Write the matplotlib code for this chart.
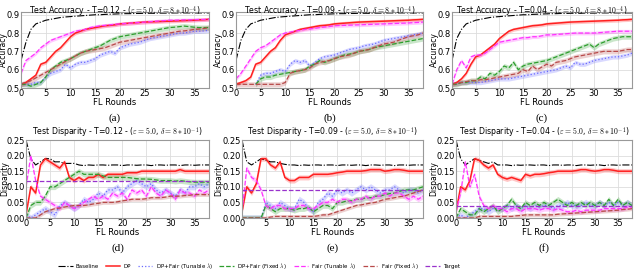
import numpy as np
import matplotlib
matplotlib.use("Agg")
import matplotlib.pyplot as plt

plt.rcParams['mathtext.fontset'] = 'cm'
plt.rcParams['font.family'] = 'DejaVu Sans'

nan = np.nan
rounds = np.arange(39)

# ---- accuracy, T=0.12 ----
base_a = [0.65,0.75,0.82,0.85,0.86,0.87,0.875,0.88,0.885,0.888,
          0.89,0.892,0.894,0.896,0.898,0.90,0.90,0.902,0.903,0.904,
          0.905,0.906,0.906,0.907,0.907,0.908,0.908,0.908,0.909,0.909,
          0.909,0.91,0.91,0.91,0.91,0.91,0.91,0.91,0.91]
dp_a = [0.52,0.53,0.55,0.57,0.63,0.64,0.67,0.70,0.72,0.75,
        0.78,0.80,0.81,0.82,0.825,0.83,0.835,0.84,0.842,0.845,
        0.85,0.852,0.854,0.856,0.858,0.86,0.861,0.862,0.863,0.864,
        0.865,0.866,0.867,0.868,0.869,0.87,0.872,0.873,0.875]
dpft_a = [0.52,0.52,0.52,0.53,0.53,0.56,0.58,0.59,0.60,0.63,
          0.61,0.63,0.64,0.64,0.65,0.66,0.68,0.69,0.70,0.69,
          0.72,0.73,0.74,0.745,0.75,0.76,0.77,0.775,0.78,0.785,
          0.79,0.795,0.80,0.80,0.805,0.81,0.81,0.812,0.815]
dpff_a = [0.52,0.52,0.51,0.52,0.53,0.56,0.60,0.62,0.64,0.65,
          0.66,0.675,0.69,0.70,0.71,0.72,0.73,0.745,0.76,0.77,
          0.78,0.785,0.79,0.795,0.80,0.805,0.81,0.815,0.82,0.825,
          0.83,0.832,0.835,0.838,0.835,0.832,0.83,0.83,0.83]
fairt_a = [0.58,0.65,0.67,0.69,0.72,0.74,0.76,0.77,0.78,0.79,
           0.80,0.81,0.815,0.82,0.83,0.835,0.84,0.842,0.845,0.848,
           0.85,0.852,0.854,0.856,0.858,0.86,0.862,0.864,0.866,0.868,
           0.87,0.87,0.871,0.872,0.872,0.873,0.874,0.874,0.875]
fairf_a = [0.52,0.53,0.54,0.555,0.57,0.585,0.60,0.615,0.63,0.645,
           0.66,0.675,0.69,0.70,0.705,0.71,0.715,0.72,0.73,0.74,
           0.75,0.755,0.76,0.765,0.77,0.775,0.78,0.785,0.79,0.795,
           0.80,0.805,0.81,0.812,0.815,0.82,0.822,0.825,0.83]

# ---- accuracy, T=0.09 ----
base_b = [0.65,0.76,0.82,0.85,0.86,0.87,0.875,0.88,0.885,0.888,
          0.89,0.892,0.894,0.896,0.898,0.90,0.90,0.902,0.903,0.904,
          0.905,0.906,0.906,0.907,0.907,0.908,0.908,0.908,0.909,0.909,
          0.909,0.91,0.91,0.91,0.91,0.91,0.91,0.91,0.91]
dp_b = [0.52,0.53,0.54,0.56,0.63,0.64,0.67,0.70,0.72,0.76,
        0.79,0.80,0.81,0.82,0.825,0.83,0.835,0.84,0.842,0.845,
        0.85,0.852,0.854,0.856,0.858,0.86,0.861,0.862,0.863,0.864,
        0.865,0.866,0.867,0.868,0.869,0.87,0.872,0.873,0.875]
dpft_b = [nan,nan,nan,nan,0.52,0.57,0.58,0.58,0.59,0.60,
          0.59,0.63,0.65,0.64,0.65,0.62,0.64,0.66,0.67,0.675,
          0.68,0.69,0.70,0.71,0.715,0.72,0.73,0.735,0.74,0.75,
          0.76,0.765,0.77,0.775,0.78,0.785,0.79,0.795,0.80]
dpff_b = [nan,nan,nan,nan,0.52,0.55,0.56,0.56,0.57,0.575,
          0.58,0.585,0.59,0.595,0.60,0.62,0.63,0.65,0.64,0.65,
          0.66,0.67,0.68,0.685,0.69,0.70,0.705,0.71,0.72,0.725,
          0.73,0.735,0.74,0.745,0.75,0.755,0.76,0.765,0.77]
fairt_b = [0.55,0.58,0.62,0.66,0.70,0.72,0.73,0.75,0.77,0.79,
           0.80,0.805,0.81,0.815,0.82,0.823,0.826,0.83,0.833,0.836,
           0.84,0.841,0.842,0.843,0.844,0.845,0.846,0.847,0.848,0.849,
           0.85,0.851,0.852,0.853,0.854,0.855,0.857,0.858,0.86]
fairf_b = [0.52,0.52,0.52,0.52,0.52,0.52,0.52,0.52,0.52,0.52,
           0.53,0.58,0.59,0.595,0.60,0.61,0.63,0.64,0.645,0.65,
           0.66,0.67,0.675,0.68,0.69,0.70,0.705,0.71,0.72,0.73,
           0.74,0.745,0.75,0.76,0.77,0.78,0.785,0.79,0.80]

# ---- accuracy, T=0.04 ----
base_c = [0.65,0.77,0.82,0.85,0.86,0.87,0.875,0.88,0.885,0.888,
          0.89,0.892,0.894,0.896,0.898,0.90,0.90,0.902,0.903,0.904,
          0.905,0.906,0.906,0.907,0.907,0.908,0.908,0.908,0.909,0.909,
          0.909,0.91,0.91,0.91,0.91,0.91,0.91,0.91,0.91]
dp_c = [0.52,0.53,0.55,0.58,0.63,0.67,0.68,0.70,0.72,0.74,
        0.77,0.79,0.81,0.82,0.825,0.83,0.835,0.84,0.842,0.845,
        0.85,0.852,0.854,0.856,0.858,0.86,0.861,0.862,0.863,0.864,
        0.865,0.866,0.867,0.868,0.869,0.87,0.872,0.873,0.875]
dpft_c = [0.52,0.525,0.53,0.53,0.53,0.53,0.53,0.535,0.54,0.545,
          0.55,0.55,0.55,0.555,0.56,0.565,0.57,0.575,0.58,0.585,
          0.59,0.595,0.60,0.61,0.62,0.61,0.64,0.63,0.63,0.64,
          0.65,0.655,0.66,0.665,0.67,0.67,0.675,0.68,0.69]
dpff_c = [0.52,0.52,0.53,0.53,0.54,0.54,0.56,0.55,0.58,0.57,
          0.59,0.62,0.61,0.64,0.60,0.62,0.63,0.635,0.64,0.645,
          0.65,0.66,0.67,0.68,0.69,0.70,0.71,0.72,0.73,0.74,
          0.72,0.74,0.75,0.76,0.77,0.775,0.78,0.78,0.78]
fairt_c = [0.52,0.60,0.65,0.61,0.67,0.68,0.68,0.69,0.71,0.73,
           0.75,0.755,0.76,0.765,0.77,0.775,0.775,0.78,0.78,0.785,
           0.79,0.79,0.792,0.794,0.796,0.798,0.80,0.80,0.80,0.80,
           0.80,0.802,0.804,0.806,0.808,0.81,0.81,0.81,0.81]
fairf_c = [0.52,0.525,0.53,0.535,0.54,0.54,0.545,0.545,0.55,0.555,
           0.56,0.565,0.57,0.575,0.58,0.60,0.59,0.62,0.60,0.615,
           0.63,0.62,0.64,0.645,0.65,0.66,0.67,0.675,0.68,0.685,
           0.69,0.695,0.70,0.70,0.70,0.70,0.705,0.71,0.71]

# ---- disparity, T=0.12 ----
base_d = [0.25,0.19,0.17,0.18,0.19,0.19,0.18,0.18,0.175,0.175,
          0.175,0.17,0.168,0.17,0.169,0.17,0.17,0.169,0.17,0.17,
          0.168,0.17,0.17,0.169,0.17,0.17,0.168,0.17,0.17,0.169,
          0.17,0.17,0.168,0.17,0.17,0.169,0.17,0.17,0.17]
dp_d = [0.01,0.10,0.08,0.17,0.19,0.18,0.17,0.16,0.18,0.13,
        0.12,0.13,0.12,0.13,0.13,0.14,0.13,0.14,0.14,0.14,
        0.14,0.145,0.145,0.145,0.15,0.15,0.15,0.15,0.15,0.15,
        0.15,0.15,0.155,0.15,0.15,0.15,0.15,0.15,0.15]
dpft_d = [0.01,0.00,0.01,0.02,0.03,0.02,0.01,0.04,0.05,0.04,
          0.03,0.04,0.06,0.05,0.06,0.08,0.07,0.09,0.09,0.10,
          0.08,0.10,0.11,0.12,0.11,0.10,0.11,0.09,0.08,0.09,
          0.08,0.07,0.09,0.08,0.10,0.10,0.11,0.10,0.11]
dpff_d = [0.00,0.04,0.05,0.05,0.07,0.10,0.10,0.11,0.12,0.13,
          0.14,0.15,0.14,0.14,0.14,0.14,0.135,0.13,0.13,0.13,
          0.13,0.13,0.128,0.126,0.125,0.125,0.124,0.122,0.12,0.12,
          0.12,0.118,0.12,0.118,0.116,0.115,0.115,0.115,0.115]
fairt_d = [0.10,0.20,0.12,0.07,0.06,0.05,0.04,0.03,0.05,0.04,
           0.03,0.04,0.05,0.06,0.07,0.06,0.07,0.06,0.08,0.07,
           0.08,0.06,0.09,0.08,0.09,0.07,0.10,0.08,0.07,0.09,
           0.08,0.06,0.09,0.08,0.08,0.07,0.09,0.08,0.09]
fairf_d = [0.00,0.00,0.00,0.01,0.02,0.025,0.03,0.032,0.035,0.038,
           0.04,0.04,0.04,0.042,0.045,0.047,0.05,0.05,0.05,0.052,
           0.055,0.057,0.06,0.06,0.06,0.062,0.065,0.065,0.065,0.067,
           0.07,0.07,0.07,0.072,0.073,0.075,0.075,0.075,0.075]

# ---- disparity, T=0.09 ----
base_e = [0.25,0.18,0.17,0.18,0.19,0.185,0.18,0.18,0.175,0.172,
          0.17,0.17,0.168,0.17,0.169,0.17,0.17,0.169,0.17,0.17,
          0.168,0.17,0.17,0.169,0.17,0.17,0.168,0.17,0.17,0.169,
          0.17,0.17,0.168,0.17,0.17,0.169,0.17,0.17,0.17]
dp_e = [0.02,0.10,0.08,0.11,0.19,0.19,0.17,0.16,0.18,0.13,
        0.12,0.12,0.13,0.13,0.13,0.14,0.14,0.14,0.14,0.142,
        0.145,0.147,0.15,0.15,0.15,0.15,0.152,0.155,0.155,0.155,
        0.15,0.152,0.155,0.155,0.153,0.15,0.15,0.15,0.15]
dpft_e = [0.0,0.0,0.0,0.0,0.0,0.05,0.04,0.03,0.05,0.04,
          0.03,0.03,0.06,0.05,0.03,0.02,0.05,0.06,0.08,0.07,
          0.09,0.08,0.09,0.08,0.09,0.10,0.09,0.10,0.09,0.08,
          0.09,0.09,0.10,0.09,0.08,0.09,0.09,0.08,0.09]
dpff_e = [0.0,0.0,0.0,0.0,0.0,0.04,0.03,0.02,0.03,0.03,
          0.03,0.025,0.03,0.03,0.035,0.02,0.03,0.04,0.04,0.03,
          0.05,0.05,0.055,0.055,0.06,0.06,0.065,0.065,0.07,0.07,
          0.075,0.078,0.08,0.085,0.09,0.09,0.09,0.095,0.10]
fairt_e = [0.02,0.16,0.13,0.12,0.09,0.04,0.03,0.04,0.04,0.03,
           0.03,0.03,0.04,0.04,0.03,0.03,0.04,0.05,0.05,0.06,
           0.05,0.06,0.06,0.05,0.06,0.06,0.07,0.06,0.07,0.07,
           0.08,0.07,0.08,0.08,0.07,0.06,0.07,0.06,0.07]
fairf_e = [0.0,0.0,0.0,0.0,0.0,0.0,0.003,0.005,0.005,0.005,
           0.005,0.005,0.005,0.005,0.005,0.005,0.007,0.01,0.01,0.015,
           0.02,0.025,0.03,0.035,0.04,0.042,0.045,0.048,0.05,0.055,
           0.06,0.062,0.065,0.068,0.07,0.075,0.08,0.085,0.09]

# ---- disparity, T=0.04 ----
base_f = [0.25,0.19,0.17,0.18,0.19,0.185,0.18,0.175,0.18,0.17,
          0.17,0.17,0.168,0.17,0.169,0.17,0.17,0.169,0.17,0.17,
          0.168,0.17,0.17,0.169,0.17,0.17,0.168,0.17,0.17,0.169,
          0.17,0.17,0.168,0.17,0.17,0.169,0.17,0.17,0.17]
dp_f = [0.02,0.10,0.09,0.12,0.19,0.185,0.17,0.16,0.17,0.14,
        0.13,0.125,0.13,0.125,0.12,0.14,0.135,0.14,0.14,0.142,
        0.145,0.147,0.15,0.15,0.15,0.15,0.152,0.155,0.155,0.152,
        0.15,0.152,0.155,0.155,0.153,0.15,0.15,0.15,0.15]
dpft_f = [0.00,0.01,0.00,0.01,0.02,0.03,0.03,0.02,0.03,0.03,
          0.03,0.04,0.03,0.04,0.03,0.04,0.03,0.04,0.035,0.04,
          0.04,0.03,0.04,0.04,0.05,0.04,0.04,0.04,0.05,0.04,
          0.04,0.05,0.04,0.05,0.04,0.05,0.04,0.05,0.04]
dpff_f = [0.00,0.03,0.02,0.01,0.01,0.03,0.02,0.03,0.04,0.02,
          0.03,0.04,0.06,0.04,0.03,0.05,0.04,0.05,0.04,0.05,
          0.04,0.05,0.06,0.05,0.04,0.05,0.04,0.05,0.04,0.05,
          0.04,0.05,0.04,0.06,0.04,0.06,0.04,0.05,0.04]
fairt_f = [0.02,0.08,0.18,0.10,0.14,0.07,0.04,0.03,0.04,0.03,
           0.03,0.02,0.03,0.03,0.02,0.03,0.03,0.03,0.025,0.03,
           0.03,0.025,0.03,0.025,0.02,0.02,0.025,0.02,0.025,0.025,
           0.025,0.025,0.03,0.03,0.03,0.03,0.03,0.035,0.035]
fairf_f = [0.0,0.0,0.0,0.0,0.0,0.005,0.005,0.005,0.005,0.005,
           0.005,0.005,0.005,0.007,0.008,0.01,0.01,0.01,0.01,0.01,
           0.01,0.01,0.012,0.013,0.014,0.015,0.016,0.017,0.018,0.019,
           0.02,0.021,0.022,0.023,0.024,0.025,0.027,0.028,0.03]

# std bands (DP, DP+Fair tun, DP+Fair fix, Fair tun, Fair fix)
acc_band = [0.01, 0.012, 0.014, 0.01, 0.014]
disp_band = [0.008, 0.01, 0.009, 0.008, 0.006]

thresholds = [0.12, 0.09, 0.04]
labels = ['Baseline', 'DP', r'DP+Fair (Tunable $\lambda$)', r'DP+Fair (Fixed $\lambda$)',
          r'Fair (Tunable $\lambda$)', r'Fair (Fixed $\lambda$)', 'Target']
colors = ['black', '#ff2020', '#6b6bff', '#2e9e2e', '#ff33ff', '#b84a4a', '#9932cc']
styles = ['-.', '-', ':', '--', '--', '--', '--']
widths = [0.8, 1.1, 0.9, 0.9, 0.9, 0.9, 0.9]

acc_data = [[base_a, dp_a, dpft_a, dpff_a, fairt_a, fairf_a],
            [base_b, dp_b, dpft_b, dpff_b, fairt_b, fairf_b],
            [base_c, dp_c, dpft_c, dpff_c, fairt_c, fairf_c]]
disp_data = [[base_d, dp_d, dpft_d, dpff_d, fairt_d, fairf_d],
             [base_e, dp_e, dpft_e, dpff_e, fairt_e, fairf_e],
             [base_f, dp_f, dpft_f, dpff_f, fairt_f, fairf_f]]

W, H = 640, 278
fig = plt.figure(figsize=(6.4, 2.78), dpi=100)

# pixel boxes: left, top, right, bottom ; ylabel right edge in px
top_boxes = [(21, 12, 209, 88), (236, 12, 423, 88), (452, 12, 632, 88)]
bot_boxes = [(26, 140, 209, 218), (242, 140, 423, 218), (456, 140, 632, 218)]
top_ylab = [8, 223, 439]
bot_ylab = [9, 223, 438]
captions = ['(a)', '(b)', '(c)', '(d)', '(e)', '(f)']


def make_ax(box):
    l, t, r, b = box
    return fig.add_axes([l / W, 1 - b / H, (r - l) / W, (b - t) / H])


def style_ax(ax, box, ylab_x, ylabel):
    l, t, r, b = box
    ax.grid(True, color='#dddddd', lw=0.6)
    ax.set_axisbelow(True)
    for s in ax.spines.values():
        s.set_color('#999999')
        s.set_linewidth(0.8)
    ax.tick_params(length=0, pad=1, labelsize=6)
    ax.set_xlim(0, 38)
    ax.set_xticks([0, 5, 10, 15, 20, 25, 30, 35])
    ax.set_xlabel('FL Rounds', fontsize=6, labelpad=0)
    ax.set_ylabel(ylabel, fontsize=5.5)
    ax.yaxis.set_label_coords((ylab_x - l) / (r - l), 0.5)


handles = []
for i in range(3):
    # accuracy row
    ax = make_ax(top_boxes[i])
    style_ax(ax, top_boxes[i], top_ylab[i], 'Accuracy')
    for j, y in enumerate(acc_data[i]):
        y = np.array(y, dtype=float)
        ax.plot(rounds, y, styles[j], color=colors[j], lw=widths[j])
        if j > 0:
            ax.fill_between(rounds, y - acc_band[j - 1], y + acc_band[j - 1],
                            color=colors[j], alpha=0.25, lw=0)
    ax.set_ylim(0.5, 0.915)
    ax.set_yticks([0.5, 0.6, 0.7, 0.8, 0.9])
    ax.set_title('Test Accuracy - T=%.2f - ($\\varepsilon=5.0$, $\\delta=8*10^{-4}$)' % thresholds[i],
                 fontsize=5.6, pad=0, y=0.97)
    l, t, r, b = top_boxes[i]
    fig.text((l + r) / 2 / W, 1 - 118 / H, captions[i], ha='center', va='center',
             fontsize=8, family='Liberation Serif')

    # disparity row
    ax = make_ax(bot_boxes[i])
    style_ax(ax, bot_boxes[i], bot_ylab[i], 'Disparity')
    for j, y in enumerate(disp_data[i]):
        y = np.array(y, dtype=float)
        h, = ax.plot(rounds, y, styles[j], color=colors[j], lw=widths[j])
        if j > 0:
            ax.fill_between(rounds, y - disp_band[j - 1], y + disp_band[j - 1],
                            color=colors[j], alpha=0.25, lw=0)
        if i == 0:
            handles.append(h)
    h = ax.axhline(thresholds[i], ls=styles[6], color=colors[6], lw=widths[6])
    if i == 0:
        handles.append(h)
    ax.set_ylim(0, 0.25)
    ax.set_yticks([0.0, 0.05, 0.10, 0.15, 0.20, 0.25])
    ax.set_yticklabels(['0.00', '0.05', '0.10', '0.15', '0.20', '0.25'])
    ax.set_title('Test Disparity - T=%.2f - ($\\varepsilon=5.0$, $\\delta=8*10^{-1}$)' % thresholds[i],
                 fontsize=5.6, pad=0.3)
    l, t, r, b = bot_boxes[i]
    fig.text((l + r) / 2 / W, 1 - 248 / H, captions[i + 3], ha='center', va='center',
             fontsize=8, family='Liberation Serif')

fig.legend(handles, labels, loc='center', bbox_to_anchor=(259 / W, 1 - 266 / H),
           ncol=7, fontsize=4, frameon=False, handlelength=2.6, columnspacing=1.2,
           handletextpad=0.6)

fig.savefig('out.png', dpi=100)
